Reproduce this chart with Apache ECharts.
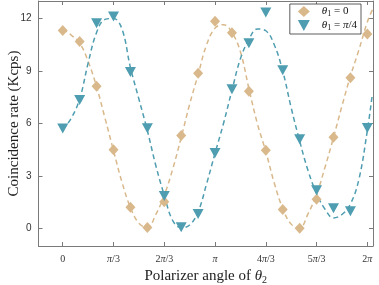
<!DOCTYPE html>
<html><head><meta charset="utf-8">
<script src="https://cdn.jsdelivr.net/npm/echarts@6/dist/echarts.min.js"></script>
<style>html,body{margin:0;padding:0;background:#fff}#c{width:379px;height:285px}</style>
</head><body><div id="c"></div>
<script>
// measured points (polarizer angle in degrees)
var pointAngles = [0,20,40,60,80,100,120,140,160,180,200,220,240,260,280,300,320,340,360];
var tanPoints  = [11.31,10.68,8.13,4.50,1.22,0.06,1.53,5.31,8.87,11.84,11.19,7.85,4.47,1.09,0.02,1.67,5.22,8.62,11.12];
var bluePoints = [5.71,7.34,11.73,12.11,8.94,5.73,1.86,0.07,0.83,4.31,7.96,10.59,12.35,9.05,5.10,2.18,1.16,0.98,5.74];
// fitted curves
var curveAngles = [0,10,20,30,40,50,60,70,80,90,100,110,120,130,140,150,160,170,180,190,200,210,220,230,240,250,260,270,280,290,300,310,320,330,340,350,360,366];
var tanCurve  = [11.4,11.05,10.6,9.55,8.1,6.3,4.45,2.65,1.2,0.3,0.05,0.8,1.9,3.4,5.2,7.1,8.8,10.5,11.45,11.65,11.2,10.1,8.0,6.0,4.4,2.6,1.15,0.25,0.05,0.85,1.95,3.5,5.2,7.0,8.7,10.2,11.8,12.5];
var blueCurve = [5.65,6.3,7.4,9.45,11.2,11.95,12.0,11.4,9.2,7.4,5.6,3.6,1.9,0.45,0.05,0.2,0.95,2.55,4.3,6.0,7.9,9.7,10.8,11.4,11.3,10.5,9.0,6.9,5.0,3.3,2.0,1.1,0.6,0.8,1.4,2.8,5.6,7.7];
var xTickValues = [0,60,120,180,240,300,360];
var xTickLabels = ['0','{i|π}/3','2{i|π}/3','{i|π}','4{i|π}/3','5{i|π}/3','2{i|π}'];
var yTickValues = [0,3,6,9,12];
var seriesNames = ['θ1 = 0','θ1 = π/4'];

var tanColor = '#D9B98C', blueColor = '#4E9DB0';
function zip(a,b){return a.map(function(v,i){return [v,b[i]];});}
var axisCol = '#7a7a7a';
var xMin = -28.65, xMax = 366.7;
var chart = echarts.init(document.getElementById('c'), null, {renderer:'canvas'});
var serif = 'Liberation Serif';
function boxAxis(extra){
  return Object.assign({
    type:'value',
    axisLine:{show:true, onZero:false, lineStyle:{color:axisCol, width:1}},
    splitLine:{show:false}
  }, extra);
}
chart.setOption({
  animation:false,
  grid:{left:38.5, right:6, top:1, bottom:39, containLabel:false, outerBoundsMode:'none'},
  legend:{
    orient:'vertical', right:18, top:4, itemWidth:12, itemHeight:11, itemGap:2,
    borderColor:'#333', borderWidth:0.8, borderRadius:0, padding:[2,4,2,8],
    backgroundColor:'#fff',
    data:[{name:seriesNames[0], icon:'diamond'},{name:seriesNames[1], icon:'path://M0,0 L10,0 L5,9 Z'}],
    formatter:function(n){ return n===seriesNames[0] ? '{i|θ}{s|1}{t| = 0}' : '{i|θ}{s|1}{t| = }{i|π}{t|/4}'; },
    textStyle:{fontFamily:serif, fontSize:11, color:'#111', padding:[0,0,0,7],
      rich:{i:{fontStyle:'italic', fontFamily:serif, fontSize:11, color:'#111'},
            t:{fontFamily:serif, fontSize:11, color:'#111'},
            s:{fontSize:8, fontFamily:serif, color:'#111', padding:[5,0,0,0]}}}
  },
  xAxis:[boxAxis({
    min:xMin, max:xMax, position:'bottom',
    axisTick:{show:true, inside:true, length:4, customValues:xTickValues, lineStyle:{color:axisCol}},
    axisLabel:{customValues:xTickValues, margin:8, color:'#333', fontFamily:serif, fontSize:10,
      formatter:function(v){ return xTickLabels[xTickValues.indexOf(v)]; },
      rich:{i:{fontStyle:'italic', fontFamily:serif, fontSize:10, color:'#333'}}},
    name:'Polarizer angle of {i|θ}{s|2}', nameLocation:'middle', nameGap:17,
    nameTextStyle:{fontFamily:serif, fontSize:15, color:'#222',
      rich:{i:{fontStyle:'italic', fontFamily:serif, fontSize:15, color:'#222'}, s:{fontFamily:serif, fontSize:10, color:'#222', padding:[7,0,0,0]}}}
  }), boxAxis({
    min:xMin, max:xMax, position:'top',
    axisTick:{show:true, inside:true, length:4, customValues:xTickValues, lineStyle:{color:axisCol}},
    axisLabel:{show:false}
  })],
  yAxis:[boxAxis({
    min:-1, max:13, position:'left',
    axisTick:{show:true, inside:true, length:4, customValues:yTickValues, lineStyle:{color:axisCol}},
    axisLabel:{customValues:yTickValues, margin:7, color:'#333', fontFamily:'Liberation Sans', fontSize:10},
    name:'Coincidence rate (Kcps)', nameLocation:'middle', nameGap:17, nameRotate:90, nameMoveOverlap:false,
    nameTextStyle:{fontFamily:serif, fontSize:15, color:'#222'}
  }), boxAxis({
    min:-1, max:13, position:'right',
    axisTick:{show:true, inside:true, length:4, customValues:yTickValues, lineStyle:{color:axisCol}},
    axisLabel:{show:false}
  })],
  series:[
    {type:'line', data:zip(curveAngles,tanCurve), smooth:0.4, showSymbol:false, symbol:'none',
     lineStyle:{color:tanColor, width:1.5, type:[5,3.5]}, silent:true, z:2},
    {type:'line', data:zip(curveAngles,blueCurve), smooth:0.4, showSymbol:false, symbol:'none',
     lineStyle:{color:blueColor, width:1.5, type:[5,3.5]}, silent:true, z:2},
    {name:seriesNames[0], type:'scatter', data:zip(pointAngles,tanPoints), symbol:'diamond', symbolSize:[10,11],
     itemStyle:{color:tanColor, opacity:1}, z:3},
    {name:seriesNames[1], type:'scatter', data:zip(pointAngles,bluePoints), symbol:'triangle', symbolRotate:180, symbolSize:[11,10],
     itemStyle:{color:blueColor, opacity:1}, z:4}
  ]
});
</script></body></html>
